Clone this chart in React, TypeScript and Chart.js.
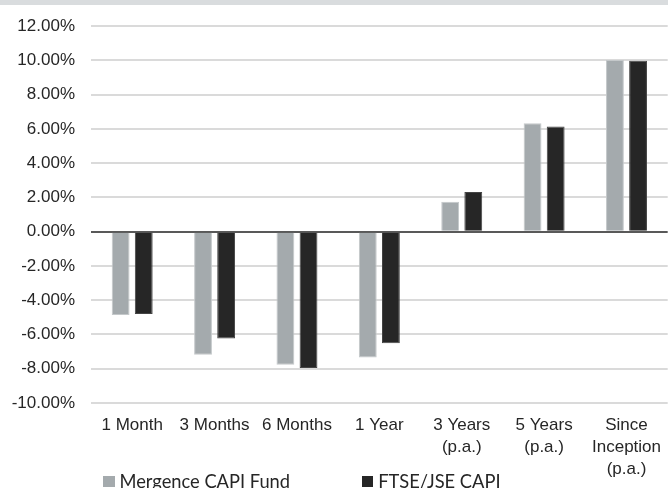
import { useEffect, useRef } from "react";
import { Chart, registerables } from "chart.js";

Chart.register(...registerables);

const categories: string[][] = [
  ["1 Month"],
  ["3 Months"],
  ["6 Months"],
  ["1 Year"],
  ["3 Years", "(p.a.)"],
  ["5 Years", "(p.a.)"],
  ["Since", "Inception", "(p.a.)"],
];
const fundLabel = "Mergence CAPI Fund";
const benchLabel = "FTSE/JSE CAPI";
const fundValues = [-4.86, -7.18, -7.76, -7.34, 1.75, 6.33, 10.03];
const benchValues = [-4.8, -6.24, -7.95, -6.51, 2.32, 6.14, 9.99];
const yMin = -10;
const yMax = 12;
const yStep = 2;

const fundColor = "#A4AAAD";
const benchColor = "#262626";

export default function App() {
  const canvasRef = useRef<HTMLCanvasElement | null>(null);

  useEffect(() => {
    document.body.style.margin = "0";
    const canvas = canvasRef.current;
    if (!canvas) return;
    const chart = new Chart(canvas, {
      type: "bar",
      data: {
        labels: categories,
        datasets: [
          {
            label: fundLabel,
            data: fundValues,
            backgroundColor: fundColor,
            borderColor: "#C4C8CA",
            borderWidth: 1,
            categoryPercentage: 0.561,
            barPercentage: 0.772,
          },
          {
            label: benchLabel,
            data: benchValues,
            backgroundColor: benchColor,
            borderColor: "#444444",
            borderWidth: 1,
            categoryPercentage: 0.561,
            barPercentage: 0.772,
          },
        ],
      },
      options: {
        animation: false,
        responsive: true,
        maintainAspectRatio: false,
        layout: { padding: { top: 23, left: 0, right: 0, bottom: 0 } },
        plugins: {
          legend: { display: false },
          tooltip: { enabled: false },
        },
        scales: {
          x: {
            grid: { display: false, drawTicks: false },
            border: { display: false },
            ticks: {
              color: "#262626",
              padding: 11,
              maxRotation: 0,
              autoSkip: false,
              font: { family: "Arial, 'Liberation Sans', sans-serif", size: 17, lineHeight: 1.29 },
            },
            afterFit: (s: any) => {
              s.height = 85;
            },
          },
          y: {
            min: yMin,
            max: yMax,
            grid: {
              drawTicks: false,
              color: (ctx: any) => (ctx.tick && ctx.tick.value === 0 ? "#595959" : "#DADADA"),
              lineWidth: 2,
            },
            border: { display: false },
            ticks: {
              stepSize: yStep,
              padding: 16,
              color: "#262626",
              font: { family: "Arial, 'Liberation Sans', sans-serif", size: 17 },
              callback: (v: any) => Number(v).toFixed(2) + "%",
            },
            afterFit: (s: any) => {
              s.width = 91;
            },
          },
        },
      },
    });
    return () => chart.destroy();
  }, []);

  const legendItems = [
    { label: fundLabel, color: fundColor, left: 103 },
    { label: benchLabel, color: benchColor, left: 361.7 },
  ];

  return (
    <div
      style={{
        position: "fixed",
        left: 0,
        top: 0,
        width: 668,
        height: 488,
        overflow: "hidden",
        background: "#ffffff",
      }}
    >
      <div style={{ position: "absolute", left: 0, top: 0, width: 668, height: 4.5, background: "#D9DCDE" }} />
      <div style={{ position: "absolute", left: 0, top: 0, width: 672, height: 488 }}>
        <canvas ref={canvasRef} />
      </div>
      {legendItems.map((it) => (
        <div key={it.label}>
          <div
            style={{
              position: "absolute",
              left: it.left,
              top: 475.7,
              width: 11.5,
              height: 11.5,
              background: it.color,
            }}
          />
          <div
            style={{
              position: "absolute",
              left: it.left + 16.5,
              top: 470,
              fontFamily: "Lato, 'Open Sans', sans-serif",
              fontSize: 18.3,
              lineHeight: "22px",
              color: "#262626",
              whiteSpace: "nowrap",
            }}
          >
            {it.label}
          </div>
        </div>
      ))}
    </div>
  );
}
